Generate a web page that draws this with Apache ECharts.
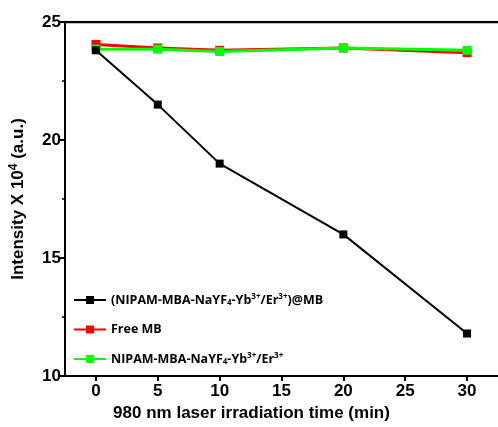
<!DOCTYPE html>
<html><head><meta charset="utf-8">
<script src="https://cdn.jsdelivr.net/npm/echarts@6/dist/echarts.min.js"></script>
<style>html,body{margin:0;padding:0;background:#fff}#c{width:498px;height:427px}</style>
</head><body><div id="c"></div>
<script>
const times = [0, 5, 10, 20, 30];
const seriesNames = ['(NIPAM-MBA-NaYF4-Yb3+/Er3+)@MB', 'Free MB', 'NIPAM-MBA-NaYF4-Yb3+/Er3+'];
const blackVals = [23.8, 21.5, 19.0, 16.0, 11.8];
const redVals = [24.05, 23.9, 23.8, 23.9, 23.7];
const greenVals = [23.85, 23.85, 23.75, 23.9, 23.8];
const colors = ['#000000', '#ff0000', '#00ff00'];

const legendRich = {
  n: {fontFamily: 'Open Sans', fontWeight: 'bold', fontSize: 12.5, color: '#000'},
  sup: {fontFamily: 'Open Sans', fontWeight: 'bold', fontSize: 8, color: '#000', verticalAlign: 'top', padding: [0,0,6,0]},
  sub: {fontFamily: 'Open Sans', fontWeight: 'bold', fontSize: 8, color: '#000', verticalAlign: 'bottom', padding: [6,0,0,0]}
};
function fmt(name) {
  if (name === 'Free MB') return '{n|Free MB}';
  let s = name.replace('NaYF4', 'NaYF}{sub|4}{n|').replace('Yb3+', 'Yb}{sup|3+}{n|').replace('Er3+', 'Er}{sup|3+}{n|');
  s = '{n|' + s + '}';
  return s.replace(/\{n\|\}/g, '');
}

function mk(i, data, lw, sym, z) {
  return {
    name: seriesNames[i], type: 'line',
    data: times.map((t, k) => [t, data[k]]),
    symbol: 'rect', symbolSize: sym,
    lineStyle: {color: colors[i], width: lw},
    itemStyle: {color: colors[i]},
    z: z
  };
}

const chart = echarts.init(document.getElementById('c'));
chart.setOption({
  animation: false,
  grid: {left: 63, right: 0, top: 22, bottom: 48},
  legend: {
    orient: 'vertical', left: 68, top: 288, itemGap: 16, itemWidth: 32, itemHeight: 10,
    formatter: fmt, textStyle: {rich: legendRich},
    data: seriesNames
  },
  xAxis: {
    type: 'value', min: -2.5, max: 32.5, interval: 5,
    name: '980 nm laser irradiation time (min)', nameLocation: 'middle', nameGap: 29,
    nameTextStyle: {fontFamily: 'Liberation Sans', fontWeight: 'bold', fontSize: 17, color: '#000', padding: [0, 60, 0, 0]},
    axisLine: {onZero: false, lineStyle: {color: '#000', width: 2}},
    axisTick: {show: true, inside: false, length: 5, lineStyle: {width: 2}, customValues: [0,5,10,15,20,25,30]},
    minorTick: {show: true, splitNumber: 2, length: 3, lineStyle: {color: '#000', width: 1.5}},
    axisLabel: {fontFamily: 'Liberation Sans', fontWeight: 'bold', fontSize: 17, color: '#000', margin: 7, customValues: [0,5,10,15,20,25,30]},
    splitLine: {show: false}
  },
  yAxis: [{
    type: 'value', min: 10, max: 25, interval: 5,
    name: '{n|Intensity X 10}{s|4}{n| (a.u.)}', nameLocation: 'middle', nameGap: 37,
    nameTextStyle: {rich: {
      n: {fontFamily: 'Liberation Sans', fontWeight: 'bold', fontSize: 17, color: '#000'},
      s: {fontFamily: 'Liberation Sans', fontWeight: 'bold', fontSize: 12, color: '#000', verticalAlign: 'top', padding: [0,0,8,0]}
    }},
    axisLine: {show: true, onZero: false, lineStyle: {color: '#000', width: 2}},
    axisTick: {show: true, length: 5, lineStyle: {width: 2}},
    minorTick: {show: true, splitNumber: 2, length: 3, lineStyle: {color: '#000', width: 1.5}},
    axisLabel: {fontFamily: 'Liberation Sans', fontWeight: 'bold', fontSize: 17, color: '#000', margin: 4},
    splitLine: {show: false}
  }],
  series: [mk(0, blackVals, 2, 8, 5), mk(1, redVals, 3, 9, 3), mk(2, greenVals, 3, 9, 4),
    {type: 'line', data: [[-2.5, 25], [32.5, 25]], symbol: 'none', lineStyle: {color: '#000', width: 2.5}, silent: true, legendHoverLink: false, tooltip: {show: false}}
  ]
});
</script></body></html>
